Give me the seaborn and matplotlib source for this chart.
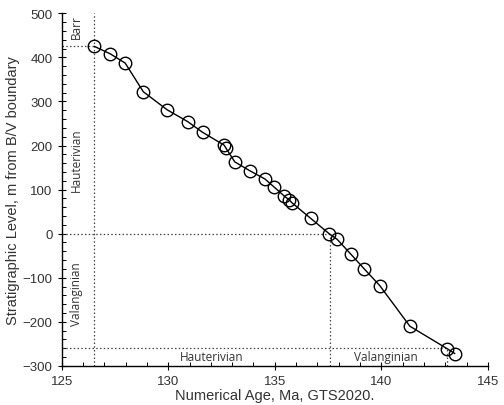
import matplotlib
matplotlib.use("Agg")
import matplotlib.pyplot as plt
import seaborn as sns
import pandas as pd
from matplotlib.ticker import MultipleLocator

age = [126.53, 127.28, 127.98, 128.83, 129.95, 130.92, 131.61, 132.62, 132.71,
       133.12, 133.82, 134.54, 134.94, 135.43, 135.67, 135.83, 136.68, 137.55,
       137.93, 138.56, 139.2, 139.93, 141.34, 143.09, 143.45]
level = [425, 408, 387, 322, 281, 254, 230, 201, 194,
         163, 143, 124, 107, 86, 77, 69, 35, 0,
         -13, -46, -80, -118, -210, -261, -272]

# boundary guide lines (age, level)
bound_age = [126.5, 137.6, 143.1]
bound_level = [425, 0, -260]

df = pd.DataFrame({"age": age, "level": level})

sns.set_style("ticks")
plt.rcParams['font.family'] = ['Liberation Sans', 'DejaVu Sans']

fig = plt.figure(figsize=(5.04, 4.06), dpi=100)
ax = fig.add_axes([0.1224, 0.0963, 0.8456, 0.8685])

dot = dict(color="#444444", lw=0.9, ls=(0, (1.2, 1.8)), zorder=1)
ax.plot([bound_age[0], bound_age[0]], [-300, 500], **dot)
ax.plot([125, bound_age[0]], [bound_level[0]] * 2, **dot)
ax.plot([bound_age[1], bound_age[1]], [-300, bound_level[1]], **dot)
ax.plot([125, bound_age[1]], [bound_level[1]] * 2, **dot)
ax.plot([bound_age[2], bound_age[2]], [-300, bound_level[2]], **dot)
ax.plot([125, bound_age[2]], [bound_level[2]] * 2, **dot)

sns.lineplot(data=df, x="age", y="level", ax=ax, sort=False, color="black",
             lw=1.0, marker="o", markersize=9, markerfacecolor="none",
             markeredgecolor="black", markeredgewidth=1.0, zorder=3)

ax.set_xlim(125, 145)
ax.set_ylim(-300, 500)
ax.xaxis.set_major_locator(MultipleLocator(5))
ax.xaxis.set_minor_locator(MultipleLocator(1))
ax.yaxis.set_major_locator(MultipleLocator(100))
ax.yaxis.set_minor_locator(MultipleLocator(20))
ax.tick_params(which="major", direction="inout", length=6, width=0.8, labelsize=9.5,
               colors="black", labelcolor="#333333")
ax.tick_params(which="minor", direction="in", length=3, width=0.7, colors="black")
sns.despine(ax=ax)
for s in ("left", "bottom"):
    ax.spines[s].set_linewidth(1.0)
    ax.spines[s].set_color("black")

ax.set_xlabel("Numerical Age, Ma, GTS2020.", fontsize=10.5, labelpad=1, color="#333333")
ax.set_ylabel("Stratigraphic Level, m from B/V boundary", fontsize=10.5, labelpad=2,
              color="#333333")

tf = dict(family=["Open Sans", "DejaVu Sans"], fontsize=8.5, color="#333333")
ax.text(125.7, 470, "Barr", rotation=90, ha="center", va="center", **tf)
ax.text(125.7, 170, "Hauterivian", rotation=90, ha="center", va="center", **tf)
ax.text(125.7, -135, "Valanginian", rotation=90, ha="center", va="center", **tf)
ax.text(132.05, -278, "Hauterivian", ha="center", va="center", **tf)
ax.text(140.2, -278, "Valanginian", ha="center", va="center", **tf)

fig.savefig("out.png", dpi=100)
